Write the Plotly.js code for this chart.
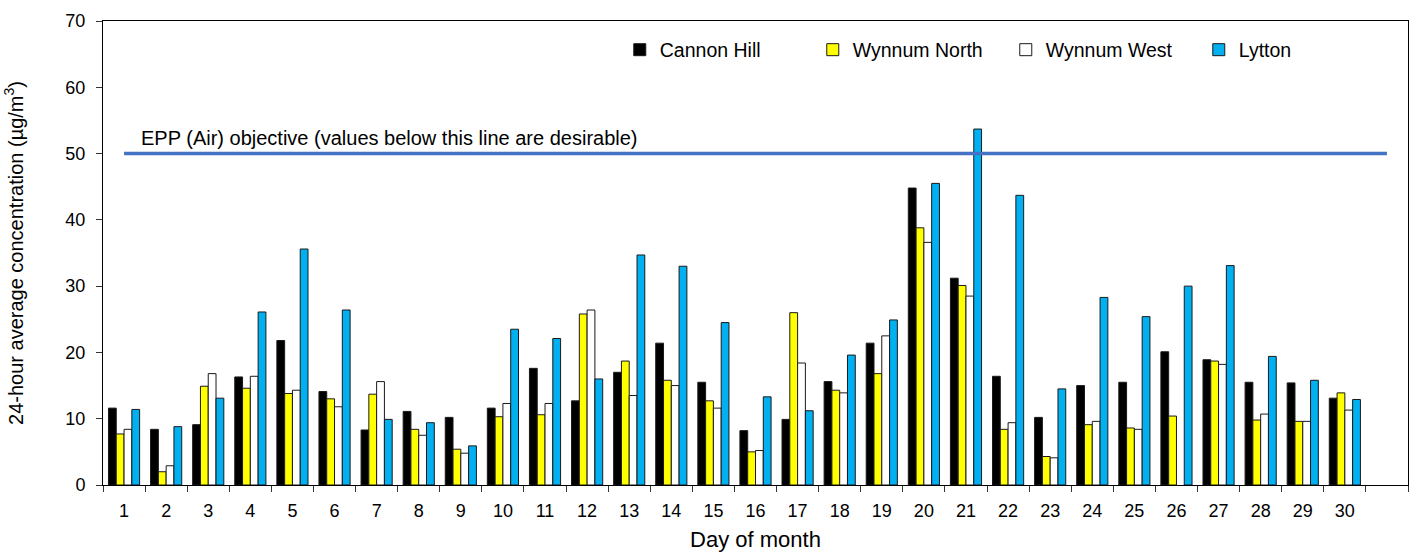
<!DOCTYPE html>
<html>
<head>
<meta charset="utf-8">
<script src="https://cdn.plot.ly/plotly-3.0.1.min.js"></script>
<style>
  html, body { margin: 0; padding: 0; background: #fff; }
  #plot { width: 1420px; height: 555px; }
</style>
</head>
<body>
<div id="plot"></div>
<script>
// --- Data (24-hour average concentration, µg/m³) ---
const days = ['1','2','3','4','5','6','7','8','9','10','11','12','13','14','15','16','17','18','19','20','21','22','23','24','25','26','27','28','29','30'];
const cannonHill  = [11.6, 8.4, 9.1, 16.3, 21.8, 14.1, 8.3, 11.1, 10.2, 11.6, 17.6, 12.7, 17.0, 21.4, 15.5, 8.2, 9.9, 15.6, 21.4, 44.8, 31.2, 16.4, 10.2, 15.0, 15.5, 20.1, 18.9, 15.5, 15.4, 13.1];
const wynnumNorth = [7.7, 2.0, 14.9, 14.6, 13.8, 13.0, 13.7, 8.4, 5.4, 10.3, 10.6, 25.8, 18.7, 15.8, 12.7, 5.0, 26.0, 14.3, 16.8, 38.8, 30.1, 8.4, 4.3, 9.1, 8.6, 10.4, 18.7, 9.8, 9.6, 13.9];
const wynnumWest  = [8.4, 2.9, 16.8, 16.4, 14.3, 11.8, 15.6, 7.5, 4.8, 12.3, 12.3, 26.4, 13.5, 15.0, 11.6, 5.2, 18.4, 13.9, 22.5, 36.6, 28.5, 9.4, 4.1, 9.6, 8.4, null, 18.2, 10.7, 9.6, 11.3];
const lytton      = [11.4, 8.8, 13.1, 26.1, 35.6, 26.4, 9.9, 9.4, 5.9, 23.5, 22.1, 16.0, 34.7, 33.0, 24.5, 13.3, 11.2, 19.6, 24.9, 45.5, 53.7, 43.7, 14.5, 28.3, 25.4, 30.0, 33.1, 19.4, 15.8, 12.9];
const objective = 50;
const objectiveLabel = 'EPP (Air) objective (values below this line are desirable)';

// extra empty slot after day 30, like the original
const slots = days.concat([' ']);

const FONT = 'Liberation Sans, Arial, sans-serif';

function barTrace(name, y, color){
  return { type:'bar', name:name, x:days, y:y,
    marker:{ color:color, line:{ color:'#1a1a1a', width:1 } },
    hoverinfo:'x+y+name' };
}

const traces = [
  barTrace('Cannon Hill', cannonHill, '#000000'),
  barTrace('Wynnum North', wynnumNorth, '#FFFF00'),
  barTrace('Wynnum West', wynnumWest, '#FFFFFF'),
  barTrace('Lytton', lytton, '#00B0F0'),
  { type:'scatter', mode:'lines', x:[slots[0], slots[slots.length-1]], y:[objective, objective],
    line:{ color:'#4472C4', width:3.5 }, showlegend:false, hoverinfo:'y' }
];

const layout = {
  width:1420, height:555,
  margin:{ l:103, r:12, t:21, b:70 },
  paper_bgcolor:'#fff', plot_bgcolor:'#fff',
  font:{ family:FONT, size:18, color:'#000' },
  barmode:'group', bargap:0.26, bargroupgap:0,
  showlegend:true,
  legend:{ orientation:'h', x:0.396, xanchor:'left', y:0.9375, yanchor:'middle',
    font:{ size:19.5 }, entrywidth:148, entrywidthmode:'pixels', bgcolor:'rgba(0,0,0,0)', traceorder:'normal' },
  xaxis:{ type:'category', categoryorder:'array', categoryarray:slots, range:[-0.5, slots.length-0.5],
    tickson:'boundaries', ticks:'outside', ticklen:6, tickcolor:'#333', showline:true, linecolor:'#000', linewidth:1,
    mirror:true, showgrid:false, zeroline:false, tickfont:{ size:18 }, ticklabelstandoff:9,
    title:{ text:'Day of month', font:{ size:22 }, standoff:12 } },
  yaxis:{ range:[0,70], dtick:10, ticks:'outside', ticklen:6, tickcolor:'#333', showline:true, linecolor:'#000', linewidth:1,
    mirror:true, showgrid:false, zeroline:false, tickfont:{ size:18 }, ticklabelstandoff:7,
    title:{ text:'24-hour average concentration (µg/m<sup>3</sup>)', font:{ size:20 }, standoff:36 } },
  annotations:[
    { text:objectiveLabel, xref:'paper', yref:'y', x:0.0275, y:objective, xanchor:'left', yanchor:'bottom',
      yshift:3, showarrow:false, font:{ size:20, color:'#000' } }
  ]
};

Plotly.newPlot('plot', traces, layout, { displayModeBar:false, staticPlot:true });
</script>
</body>
</html>
